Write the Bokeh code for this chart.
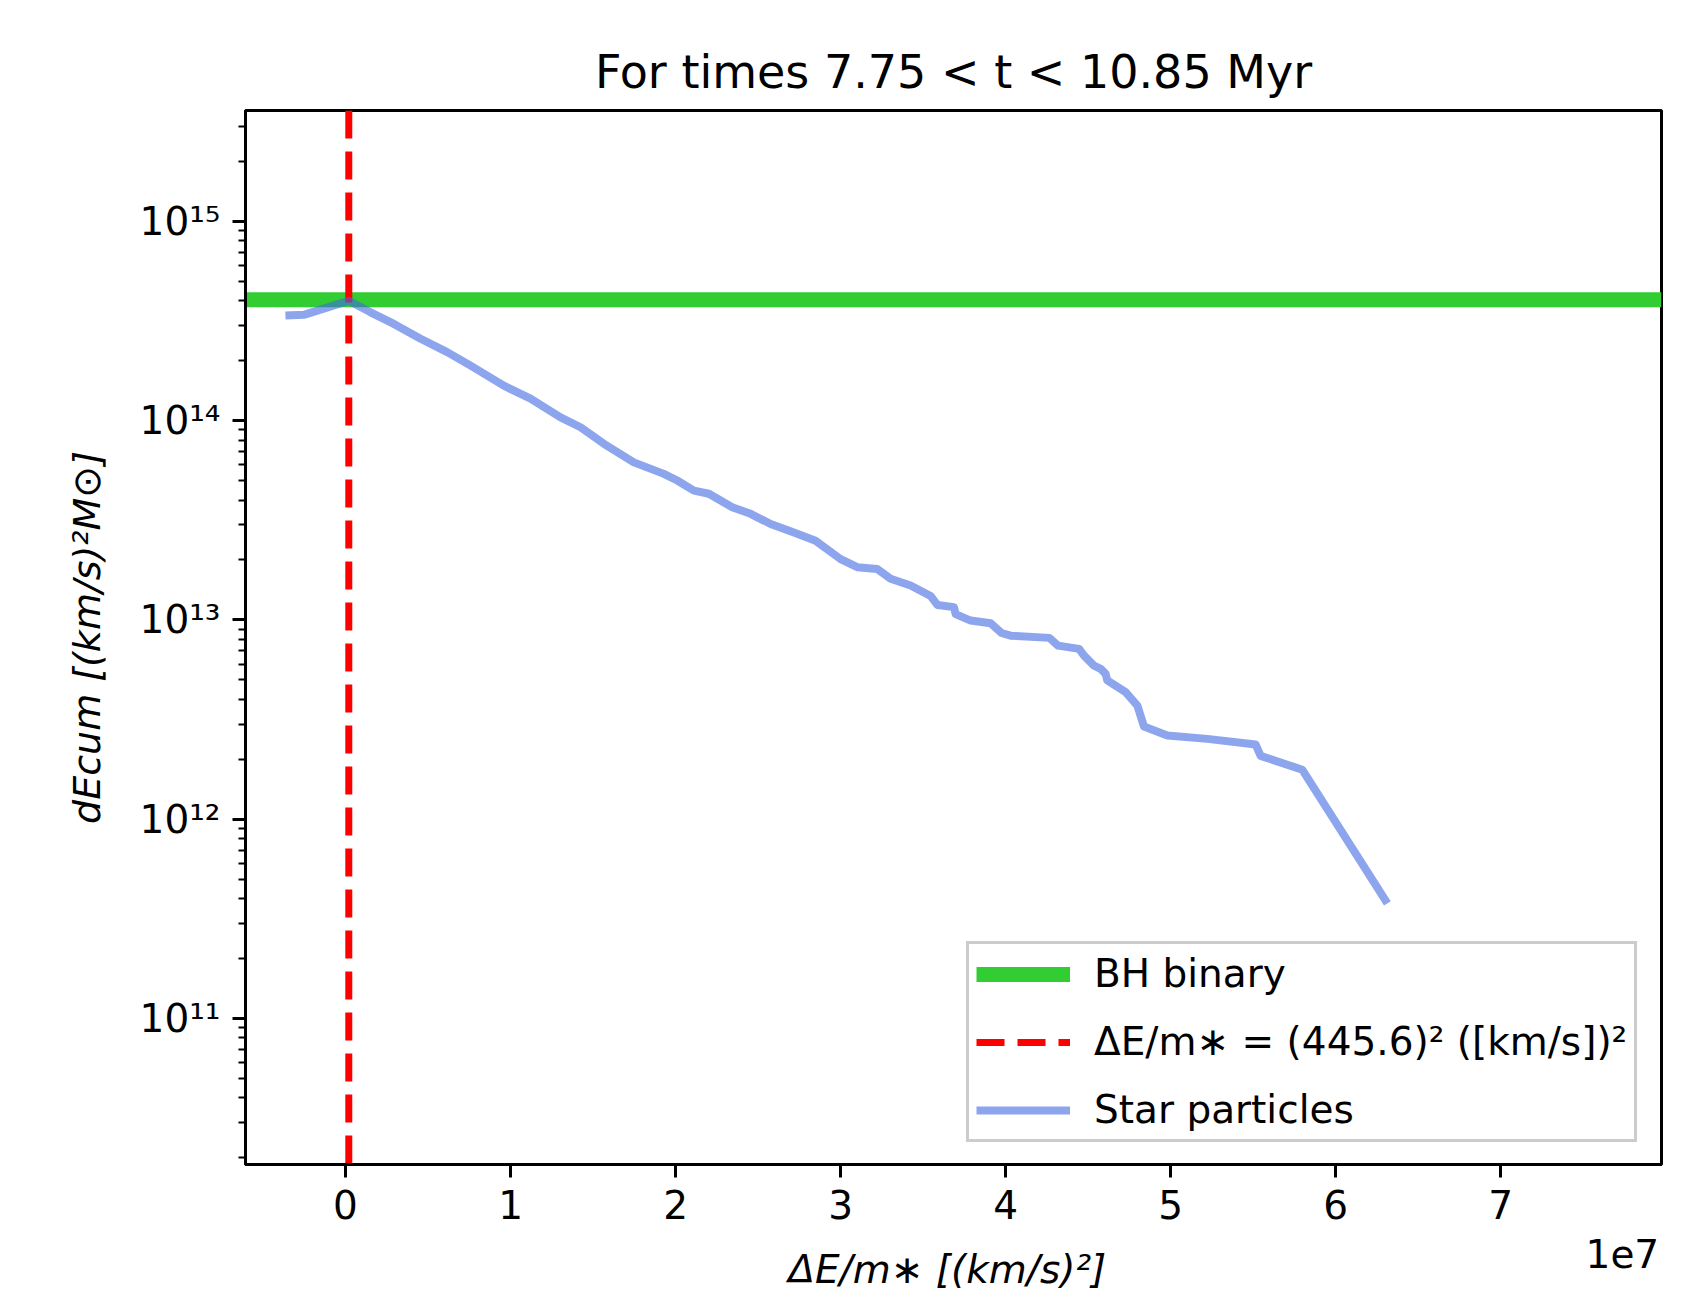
from bokeh.plotting import figure
from bokeh.models import Range1d, FixedTicker, Span, Legend, LegendItem, LinearAxis
from bokeh.embed import file_html
from bokeh.resources import INLINE

# ---------------- data ----------------
# Star particles: cumulative energy vs. specific energy change (x in units of 1e7 (km/s)^2)
star_dE_1e7 = [-0.364, -0.253, -0.132, 0.020, 0.152, 0.293, 0.455, 0.616, 0.758, 0.959,
               1.121, 1.303, 1.424, 1.566, 1.747, 1.929, 2.010, 2.111, 2.202, 2.343,
               2.455, 2.576, 2.717, 2.848, 3.000, 3.101, 3.222, 3.303, 3.424, 3.545,
               3.586, 3.687, 3.697, 3.788, 3.909, 3.975, 4.030, 4.265, 4.318, 4.445,
               4.475, 4.535, 4.576, 4.606, 4.616, 4.727, 4.798, 4.838, 4.980, 5.222,
               5.515, 5.545, 5.798, 6.313]
star_dEcum = [3.37e14, 3.40e14, 3.65e14, 4.00e14, 3.50e14, 3.06e14, 2.58e14, 2.21e14, 1.89e14, 1.50e14,
              1.29e14, 1.04e14, 9.27e13, 7.66e13, 6.18e13, 5.41e13, 5.01e13, 4.46e13, 4.30e13, 3.68e13,
              3.41e13, 3.03e13, 2.75e13, 2.50e13, 2.02e13, 1.84e13, 1.80e13, 1.61e13, 1.49e13, 1.32e13,
              1.19e13, 1.16e13, 1.07e13, 9.93e12, 9.62e12, 8.60e12, 8.34e12, 8.13e12, 7.43e12, 7.16e12,
              6.62e12, 5.90e12, 5.68e12, 5.36e12, 4.97e12, 4.34e12, 3.72e12, 2.92e12, 2.63e12, 2.53e12,
              2.37e12, 2.08e12, 1.77e12, 3.78e11]
bh_binary_dEcum = 4.05e14
v_threshold_kms = 445.6

x_ticks = [0, 1, 2, 3, 4, 5, 6, 7]
y_ticks = [1e11, 1e12, 1e13, 1e14, 1e15]
y_tick_labels = ["10¹¹", "10¹²", "10¹³", "10¹⁴", "10¹⁵"]
legend_labels = ["BH binary", "ΔE/m∗ = (445.6)² ([km/s])²", "Star particles"]
title_text = "For times 7.75 < t < 10.85 Myr"
x_label = "ΔE/m∗  [(km/s)²]"
y_label = "dEcum [(km/s)²M⊙]"
offset_text = "1e7"
offset_text_pos = 7.737
x_limits = (-0.606, 7.974)
y_limits = (1.849e10, 3.606e15)

FONT = "DejaVu Sans"

p = figure(width=1702, height=1302,
           x_range=Range1d(*x_limits), y_range=Range1d(*y_limits),
           y_axis_type="log", output_backend="svg", toolbar_location=None,
           min_border_left=245, min_border_right=41, min_border_top=110, min_border_bottom=138,
           background_fill_color="white", border_fill_color="white")
p.grid.visible = False
p.outline_line_color = "black"
p.outline_line_width = 3
p.outline_line_alpha = 1.0

# title
p.title.text = title_text
p.title.text_font = FONT
p.title.text_font_size = "46px"
p.title.text_font_style = "normal"
p.title.text_color = "black"
p.title.align = "center"
p.title.standoff = 24

# axes
p.xaxis.ticker = FixedTicker(ticks=x_ticks, minor_ticks=[])
minor = [k * 10.0 ** n for n in range(10, 16) for k in range(2, 10)]
p.yaxis.ticker = FixedTicker(ticks=y_ticks, minor_ticks=minor)
p.yaxis.major_label_overrides = {t: l for t, l in zip(y_ticks, y_tick_labels)}
for ax in (p.xaxis[0], p.yaxis[0]):
    ax.axis_line_width = 3
    ax.axis_line_color = "black"
    ax.major_tick_line_width = 3
    ax.major_tick_line_color = "black"
    ax.major_tick_out = 13
    ax.major_tick_in = 0
    ax.minor_tick_line_width = 2
    ax.minor_tick_line_color = "black"
    ax.minor_tick_out = 7
    ax.minor_tick_in = 0
    ax.major_label_text_font = FONT
    ax.major_label_text_font_size = "39px"
    ax.major_label_text_color = "black"
p.xaxis.major_label_standoff = 12
p.yaxis.major_label_standoff = 12

p.yaxis.axis_label = y_label
p.yaxis.axis_label_text_font = FONT
p.yaxis.axis_label_text_font_size = "38px"
p.yaxis.axis_label_text_font_style = "italic"
p.yaxis.axis_label_text_color = "black"
p.yaxis.axis_label_standoff = 28

# second bottom axis: carries the offset text "1e7" and the x axis label
ax2 = LinearAxis(ticker=FixedTicker(ticks=[offset_text_pos], minor_ticks=[]),
                 major_label_overrides={offset_text_pos: offset_text},
                 axis_line_color=None, major_tick_line_color=None, minor_tick_line_color=None,
                 major_tick_out=0, major_tick_in=0, minor_tick_out=0, minor_tick_in=0,
                 major_label_standoff=17,
                 major_label_text_font=FONT, major_label_text_font_size="39px",
                 major_label_text_color="black",
                 axis_label=x_label, axis_label_standoff=-24,
                 axis_label_text_font=FONT, axis_label_text_font_size="39px",
                 axis_label_text_font_style="italic", axis_label_text_color="black")
p.add_layout(ax2, "below")

# reference lines
p.add_layout(Span(location=bh_binary_dEcum, dimension="width", line_color="limegreen",
                  line_width=15, level="underlay"))
p.add_layout(Span(location=v_threshold_kms ** 2 / 1e7, dimension="height", line_color="red",
                  line_width=7, line_dash="28 13", level="underlay"))

# legend proxies for the spans (a single NaN point: nothing drawn in the frame)
nan = float("nan")
r_bh = p.line(x=[nan], y=[nan], line_color="limegreen", line_width=15)
r_thr = p.line(x=[nan], y=[nan], line_color="red", line_width=7, line_dash="28 13")
r_star = p.line(star_dE_1e7, star_dEcum, line_color="royalblue", line_alpha=0.6,
                line_width=8, line_join="round")

legend = Legend(items=[LegendItem(label=legend_labels[0], renderers=[r_bh]),
                       LegendItem(label=legend_labels[1], renderers=[r_thr]),
                       LegendItem(label=legend_labels[2], renderers=[r_star])],
                location=(721, 22), orientation="vertical",
                label_text_font=FONT, label_text_font_size="39px", label_text_color="black",
                glyph_width=94, glyph_height=40, label_height=40, spacing=23,
                padding=7, margin=0, label_standoff=24,
                border_line_color="#cccccc", border_line_width=3, border_line_alpha=1.0,
                background_fill_color="white", background_fill_alpha=0.8)
p.add_layout(legend)

open("out.html", "w").write(file_html(p, INLINE))
